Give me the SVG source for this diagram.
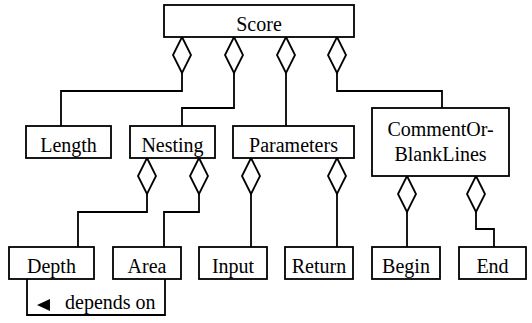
<svg xmlns="http://www.w3.org/2000/svg" width="532" height="323" viewBox="0 0 532 323">
  <style>
    .box { fill: #fff; stroke: #000; stroke-width: 1.8; }
    .conn { fill: none; stroke: #000; stroke-width: 1.8; }
    .dia { fill: #fff; stroke: #000; stroke-width: 1.8; }
    text { font-family: "Liberation Serif", "Times New Roman", serif; font-size: 20px; fill: #000; }
    .c { text-anchor: middle; }
  </style>
  <rect width="532" height="323" fill="#fff"/>

  <g id="connectors">
    <!-- Score parts: hollow diamond at the whole, line to the part -->
    <path class="dia" d="M182,37 l9,18 l-9,18 l-9,-18 z"/>
    <path class="conn" d="M182,73 V91 H61 V126"/>
    <path class="dia" d="M234,37 l9,18 l-9,18 l-9,-18 z"/>
    <path class="conn" d="M234,73 V108 H182 V126"/>
    <path class="dia" d="M286,37 l9,18 l-9,18 l-9,-18 z"/>
    <path class="conn" d="M286,73 V126"/>
    <path class="dia" d="M337,37 l9,18 l-9,18 l-9,-18 z"/>
    <path class="conn" d="M337,73 V91 H442 V108"/>
    <!-- Nesting parts -->
    <path class="dia" d="M147,158 l9,18 l-9,18 l-9,-18 z"/>
    <path class="conn" d="M147,194 V212 H78 V247"/>
    <path class="dia" d="M199,158 l9,18 l-9,18 l-9,-18 z"/>
    <path class="conn" d="M199,194 V212 H164 V247"/>
    <!-- Parameters parts -->
    <path class="dia" d="M251,158 l9,18 l-9,18 l-9,-18 z"/>
    <path class="conn" d="M251,194 V247"/>
    <path class="dia" d="M337,158 l9,18 l-9,18 l-9,-18 z"/>
    <path class="conn" d="M337,194 V247"/>
    <!-- CommentOrBlankLines parts -->
    <path class="dia" d="M407,176 l9,18 l-9,18 l-9,-18 z"/>
    <path class="conn" d="M407,212 V247"/>
    <path class="dia" d="M476,176 l9,18 l-9,18 l-9,-18 z"/>
    <path class="conn" d="M476,212 V229 H494 V247"/>
    <!-- dependency between Depth and Area -->
    <path class="conn" d="M27,279 V315 H165 V279"/>
    <polygon points="37,305 50,299 50,311" fill="#000"/>
    <text x="65" y="309">depends on</text>
  </g>

  <g id="score">
    <rect class="box" x="164" y="5" width="190" height="32"/>
    <text class="c" x="259" y="30.5">Score</text>
  </g>
  <g id="length">
    <rect class="box" x="26" y="126" width="85" height="32"/>
    <text class="c" x="68.5" y="151.5">Length</text>
  </g>
  <g id="nesting">
    <rect class="box" x="130" y="126" width="85" height="32"/>
    <text class="c" x="172.5" y="151.5">Nesting</text>
  </g>
  <g id="parameters">
    <rect class="box" x="233" y="126" width="121" height="32"/>
    <text class="c" x="293.5" y="151.5">Parameters</text>
  </g>
  <g id="commentOrBlankLines">
    <rect class="box" x="372" y="108" width="137" height="68"/>
    <text class="c" x="440.5" y="136">CommentOr-</text>
    <text class="c" x="440.5" y="161">BlankLines</text>
  </g>
  <g id="depth">
    <rect class="box" x="9" y="247" width="85" height="32"/>
    <text class="c" x="51.5" y="272.5">Depth</text>
  </g>
  <g id="area">
    <rect class="box" x="113" y="247" width="68" height="32"/>
    <text class="c" x="147" y="272.5">Area</text>
  </g>
  <g id="input">
    <rect class="box" x="199" y="247" width="68" height="32"/>
    <text class="c" x="233" y="272.5">Input</text>
  </g>
  <g id="return">
    <rect class="box" x="285" y="247" width="68" height="32"/>
    <text class="c" x="319" y="272.5">Return</text>
  </g>
  <g id="begin">
    <rect class="box" x="372" y="247" width="68" height="32"/>
    <text class="c" x="406" y="272.5">Begin</text>
  </g>
  <g id="end">
    <rect class="box" x="459" y="247" width="67" height="32"/>
    <text class="c" x="492.5" y="272.5">End</text>
  </g>
</svg>
